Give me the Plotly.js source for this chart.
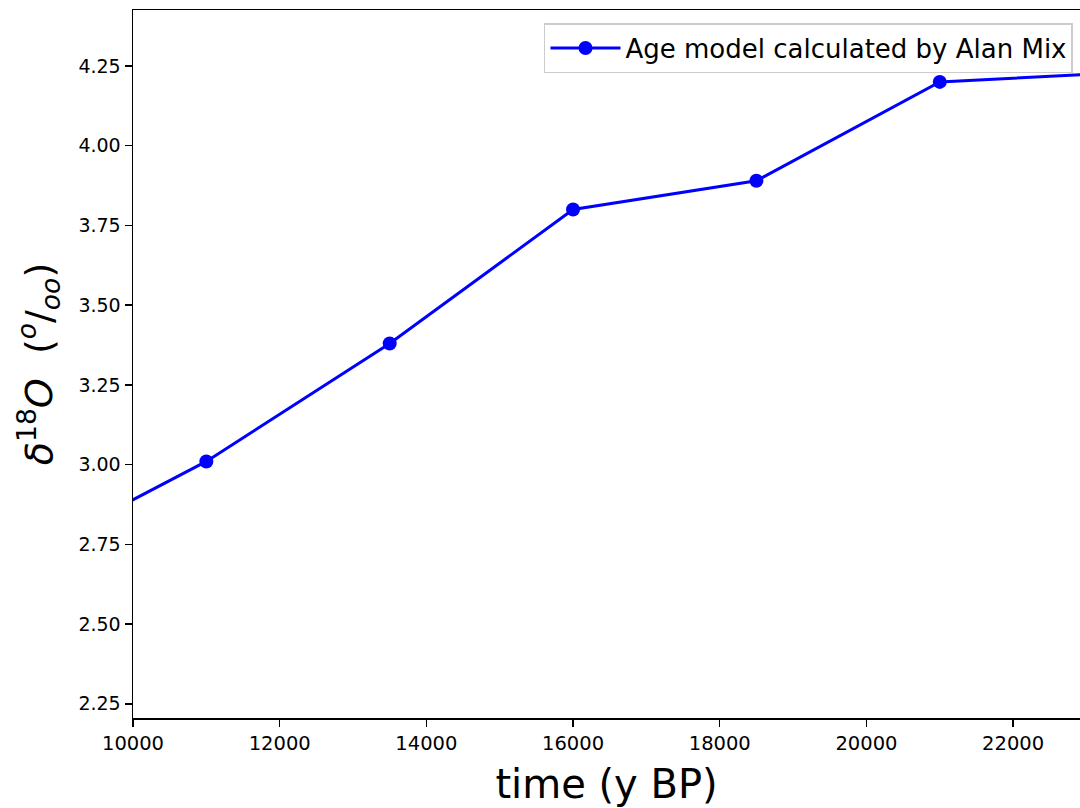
<!DOCTYPE html>
<html>
<head>
<meta charset="utf-8">
<script src="https://cdn.plot.ly/plotly-3.0.1.min.js"></script>
<style>html,body{margin:0;padding:0;background:#fff;}#chart{width:1080px;height:808px;}</style>
</head>
<body>
<div id="chart"></div>
<script>
var timeBP = [8500, 11000, 13500, 16000, 18500, 21000, 23500];
var d18O = [2.71, 3.01, 3.38, 3.80, 3.89, 4.20, 4.229];
var seriesName = 'Age model calculated by Alan Mix';
var xTicks = [10000, 12000, 14000, 16000, 18000, 20000, 22000];
var yTicks = [2.25, 2.50, 2.75, 3.00, 3.25, 3.50, 3.75, 4.00, 4.25];

var trace = {
  x: timeBP, y: d18O, name: seriesName, type: 'scatter', mode: 'lines+markers',
  line: {color: '#0000ff', width: 3},
  marker: {color: '#0000ff', size: 14},
  showlegend: true, cliponaxis: true
};

var font = {family: 'DejaVu Sans, sans-serif', color: '#000'};
var layout = {
  width: 1080, height: 808,
  margin: {l: 133, r: 0, t: 10, b: 90},
  paper_bgcolor: '#fff', plot_bgcolor: '#fff',
  font: font,
  showlegend: true,
  xaxis: {
    range: [10000, 22912], tickvals: xTicks, ticktext: xTicks.map(String),
    ticks: 'outside', ticklen: 7, tickwidth: 1.5, tickcolor: '#000',
    showline: true, linecolor: '#000', linewidth: 1.5, mirror: true,
    showgrid: false, zeroline: false,
    tickfont: {family: 'DejaVu Sans, sans-serif', size: 19.5, color: '#000'},
    title: {text: 'time (y BP)', font: {family: 'DejaVu Sans, sans-serif', size: 40, color: '#000'}, standoff: 16}
  },
  yaxis: {
    range: [2.2055, 4.4255], tickvals: yTicks, ticktext: yTicks.map(function(v){return v.toFixed(2);}),
    ticks: 'outside', ticklen: 7, tickwidth: 1.5, tickcolor: '#000',
    showline: true, linecolor: '#000', linewidth: 1.5, mirror: false,
    showgrid: false, zeroline: false,
    tickfont: {family: 'DejaVu Sans, sans-serif', size: 19, color: '#000'},
    title: {text: '<i>δ</i><sup>18</sup><i>O</i>  (<sup><i>o</i></sup>/<sub><i>oo</i></sub>)', font: {family: 'DejaVu Sans, sans-serif', size: 38, color: '#000'}, standoff: 14}
  },
  legend: {
    x: 0.9926, y: 0.9816, xanchor: 'right', yanchor: 'top',
    itemwidth: 70,
    bgcolor: 'rgba(255,255,255,0.8)', bordercolor: '#cccccc', borderwidth: 1.5,
    font: {family: 'DejaVu Sans, sans-serif', size: 26, color: '#000'}
  }
};
Plotly.newPlot('chart', [trace], layout, {displayModeBar: false, staticPlot: true});
</script>
</body>
</html>
